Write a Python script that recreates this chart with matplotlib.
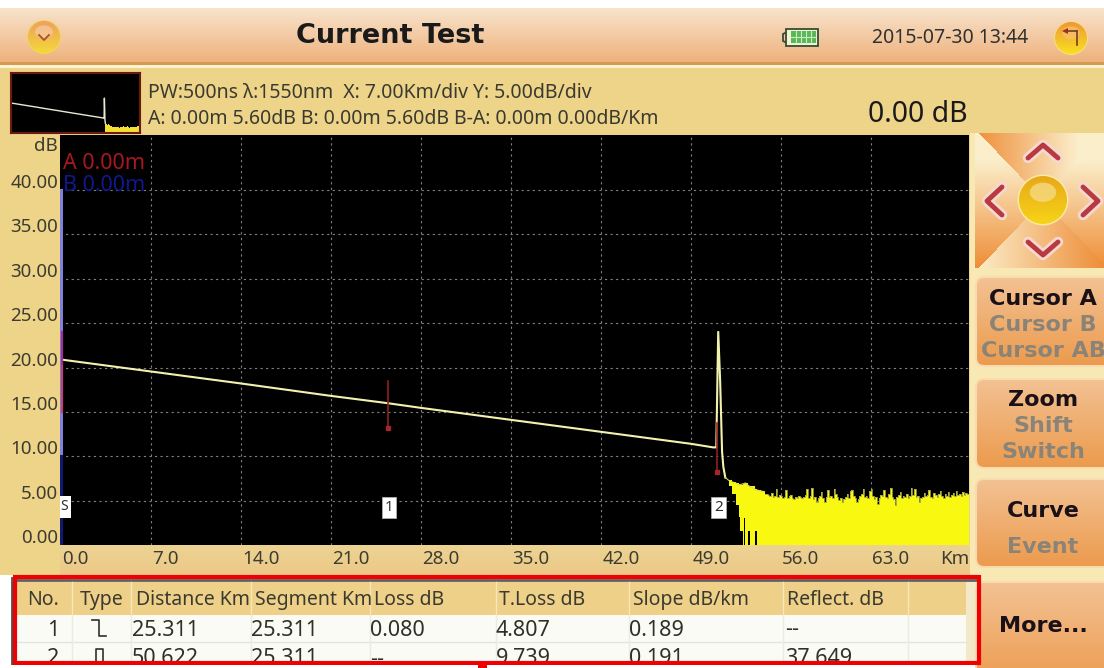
import numpy as np
import matplotlib
matplotlib.use('Agg')
import matplotlib.pyplot as plt
from matplotlib.colors import to_rgb
from matplotlib.patches import Rectangle, FancyBboxPatch, Circle, Polygon, Ellipse

plt.rcParams['font.family'] = ['Noto Sans', 'DejaVu Sans']

# trace
trace_km = [0.0, 7.0, 14.0, 21.0, 25.3, 28.0, 35.0, 42.0, 49.0, 50.7, 50.95, 51.1, 51.25, 51.4, 51.5, 51.65]
trace_db = [20.9, 19.55, 18.2, 16.8, 16.0, 15.45, 14.1, 12.75, 11.4, 11.0, 11.0, 24.1, 18.5, 10.5, 8.8, 7.6]

# yellow tail after the fibre end, top edge and lower edge
tail_km = [51.65, 51.9, 52.2, 52.45, 52.7, 52.8, 53.03, 53.1, 53.2, 53.45, 53.55, 53.95, 54.1, 54.4, 54.7]
tail_top = [7.6, 7.3, 7.1, 7.0, 6.8, 6.8, 6.9, 6.9, 7.0, 6.7, 6.6, 6.3, 6.2, 6.1, 6.0]
tail_low = [7.6, 6.6, 5.8, 4.5, 3.1, 1.6, 0.0, 3.0, 0.0, 1.6, 0.0, 1.6, 0.0, 0.0, 0.0]

noise_start = 54.7
noise_step = 0.125
noise_db = [5.8, 5.7, 5.6, 5.5, 5.9, 5.4, 5.5, 6.3, 5.4, 5.6, 5.5, 5.3, 5.4, 6.2, 5.3, 5.5,
            5.6, 5.3, 5.2, 5.4, 5.3, 5.5, 5.4, 5.3, 5.4, 5.6, 6.3, 5.3, 5.5, 6.4, 5.2, 5.4,
            4.9, 5.3, 5.5, 6.0, 5.3, 4.8, 5.4, 6.2, 5.4, 5.5, 5.3, 6.3, 5.7, 5.4, 5.1, 5.3,
            4.8, 5.2, 5.4, 5.8, 5.3, 6.1, 6.2, 5.5, 5.3, 4.9, 5.2, 5.5, 5.8, 6.3, 5.4, 5.5,
            5.3, 6.1, 6.3, 5.5, 5.2, 5.4, 4.6, 5.3, 5.6, 5.5, 6.2, 5.4, 5.3, 5.7, 6.4, 5.4,
            5.2, 4.5, 5.4, 5.6, 6.0, 5.3, 5.5, 5.4, 5.8, 5.3, 5.5, 6.4, 5.6, 6.3, 5.4, 5.5,
            4.9, 5.3, 5.4, 5.9, 5.5, 5.6, 6.2, 5.4, 5.3, 5.9, 5.6, 5.4, 5.7, 6.1, 5.5, 5.3,
            5.8, 5.5, 6.0, 5.4, 5.6, 5.9, 5.5, 6.1, 5.6, 5.8, 5.5, 6.0, 5.6, 5.9, 5.7, 5.6]
noise_km = [noise_start + i * noise_step for i in range(len(noise_db))]

# event marks: km, top dB, bottom dB
event_km = [25.4, 51.0]
event_top = [18.5, 13.8]
event_bot = [13.2, 8.2]
event_names = ['1', '2']

x_ticks = [0, 7, 14, 21, 28, 35, 42, 49, 56, 63]
y_ticks = [0, 5, 10, 15, 20, 25, 30, 35, 40]

table_head = ['No.', 'Type', 'Distance Km', 'Segment Km', 'Loss dB', 'T.Loss dB', 'Slope dB/km', 'Reflect. dB']
row_1 = ['25.311', '25.311', '0.080', '4.807', '0.189', '--']
row_2 = ['50.622', '25.311', '--', '9.739', '0.191', '37.649']

W, H = 1104, 668
fig = plt.figure(figsize=(W / 100, H / 100), dpi=100, facecolor='white')
bg = fig.add_axes([0, 0, 1, 1])
bg.axis('off')


def gradient(x0, y0, x1, y1, c0, c1, z=1):
    t = np.linspace(0, 1, 64)[:, None, None]
    img = (1 - t) * np.array(to_rgb(c0))[None, None, :] + t * np.array(to_rgb(c1))[None, None, :]
    return bg.imshow(img, extent=(x0, x1, y1, y0), aspect='auto', zorder=z)


def ball(x, y, r, rim, c_top, c_bot, shine, z=5):
    bg.add_patch(Circle((x, y), r * 1.06, fc=rim, ec='none', zorder=z))
    c = Circle((x, y), r, fc='none', ec='none', zorder=z)
    bg.add_patch(c)
    im = gradient(x - r, y - r, x + r, y + r, c_top, c_bot, z=z + 0.1)
    im.set_clip_path(c)
    bg.add_patch(Ellipse((x, y - r * 0.32), r * 1.1, r * 0.8, fc=shine, ec='none', alpha=0.75, zorder=z + 0.2))


def button(y0, y1, labels):
    box = FancyBboxPatch((976, y0 + 1), 140, y1 - y0 - 2, boxstyle='round,pad=0,rounding_size=8',
                         fc='none', ec='#f8dcb0', lw=1.5, zorder=4)
    bg.add_patch(box)
    im = gradient(975, y0, 1104, y1, '#f3c294', '#ec9a4c', z=3)
    im.set_clip_path(box)
    for text, c, yy in labels:
        bg.text(1043, yy, text, family='DejaVu Sans', weight='bold', fontsize=16, color=c,
                ha='center', va='center', zorder=6, clip_on=True)


# title bar and tan backgrounds
gradient(0, 8, W, 62, '#f8e3cc', '#eeb27c')
bg.add_patch(Rectangle((0, 62), W, 3, fc='#d59a50', ec='none', zorder=2))
bg.add_patch(Rectangle((0, 65), W, 3, fc='#fbf3d4', ec='none', zorder=2))
bg.add_patch(Rectangle((0, 68), W, 507, fc='#eed488', ec='none', zorder=1))
gradient(60, 546, 970, 575, '#edd392', '#ecc888', z=2)
bg.add_patch(Rectangle((970, 133), 134, 535, fc='#f8e8b4', ec='none', zorder=1))

bg.text(390, 36, 'Current Test', family='DejaVu Sans', weight='bold', fontsize=19.5, color='#1a1a1a',
        ha='center', va='center', zorder=6)
bg.text(950, 38, '2015-07-30 13:44', fontsize=14, color='#303030', ha='center', va='center', zorder=6)
ball(44, 37, 16, '#f0d858', '#eea060', '#f4d838', '#f7c8a0')
bg.plot([39, 44, 49], [35, 40, 35], color='#a85030', lw=1.3, zorder=7)
ball(1071, 38, 16, '#f8e088', '#f09838', '#f8e020', '#f8c070')
bg.plot([1077, 1077], [31, 45], color='#704020', lw=1.2, zorder=7)
bg.plot([1066, 1077], [31, 31], color='#704020', lw=1.2, zorder=7)
bg.add_patch(Polygon([[1062, 31], [1068, 28], [1068, 34]], fc='#a03020', ec='none', zorder=7))

# battery
bg.add_patch(Rectangle((786, 29), 32, 17, fc='#eef4d4', ec='#3a4a30', lw=1.3, zorder=5))
bg.add_patch(Rectangle((791, 31), 25, 12, fc='#58b858', ec='none', zorder=6))
for bx in [796, 801, 806, 811]:
    bg.plot([bx, bx], [31, 43], color='#c8ecc0', lw=0.8, zorder=7)
bg.plot([791, 816], [37, 37], color='#c8ecc0', lw=0.8, zorder=7)
bg.plot([785, 783, 783, 785], [33, 34, 41, 42], color='#3a4a30', lw=1.3, zorder=5)

# info text
bg.text(148, 93, 'PW:500ns \u03bb:1550nm  X: 7.00Km/div Y: 5.00dB/div', fontsize=14, color='#3a3a30',
        va='center', zorder=6)
bg.text(148, 119, 'A: 0.00m 5.60dB B: 0.00m 5.60dB B-A: 0.00m 0.00dB/Km', fontsize=14, color='#3a3a30',
        va='center', zorder=6)
bg.text(968, 115, '0.00 dB', fontsize=20.5, color='#1a1a1a', ha='right', va='center', zorder=6)

# main chart, placed on the screen pixels
left, right, top, bottom = 60, 969, 135, 545
ax = fig.add_axes([left / W, 1 - bottom / H, (right - left) / W, (bottom - top) / H], facecolor='black', zorder=3)
ax.set_xlim(-0.08, 70.6)
ax.set_ylim(0, 46.2)
for s in ax.spines.values():
    s.set_visible(False)
ax.set_xticks(x_ticks[1:])
ax.set_yticks(y_ticks[1:])
ax.grid(True, color='#808080', lw=0.8, ls=(0, (2, 3)))
ax.set_axisbelow(True)
ax.tick_params(length=0, labelbottom=False, labelleft=False)

# tick labels sit beside the grid lines on this instrument, left aligned under x and raised on y
for v in x_ticks:
    ax.annotate('%.1f' % v, (v, 0), xytext=(1, -14), textcoords='offset pixels', ha='left', va='center',
                fontsize=13.5, color='#3c3c30', annotation_clip=False)
for v in y_ticks:
    ax.annotate('%.2f' % v, (0, v), xytext=(-3, 7), textcoords='offset pixels', ha='right', va='center',
                fontsize=13.5, color='#3c3c30', annotation_clip=False)

ax.fill_between(tail_km, tail_low, tail_top, step='post', color='#f8f810', lw=0)
ax.fill_between(noise_km, 0, noise_db, step='post', color='#f8f810', lw=0)
ax.step(noise_km, noise_db, where='post', color='#a0a040', lw=0.6)
ax.plot(trace_km, trace_db, color='#f2f2b0', lw=1.5, solid_joinstyle='miter')
ax.plot(tail_km, tail_top, color='#d8d860', lw=0.8)

# cursors at zero and the event marks
ax.plot([0.03, 0.03], [0, 40], color='#8080d8', lw=2.2)
ax.plot([0.03, 0.03], [0, 10], color='#101870', lw=2.2)
ax.plot([0.1, 0.1], [15, 20.4], color='#c04070', lw=1.6)
ax.plot([0.1, 0.1], [20.4, 24], color='#a03090', lw=1.6)
for km, t, b, name in zip(event_km, event_top, event_bot, event_names):
    ax.plot([km, km], [b, t], color='#902020', lw=1.2)
    ax.plot([km], [b], marker='s', ms=3.5, color='#a02828')
    ax.annotate(name, (km + 0.1, 4.25), ha='center', va='center', fontsize=11, color='#303030',
                bbox=dict(boxstyle='square,pad=0.2', fc='white', ec='#b0b0b0', lw=0.6))
ax.text(0.2, 4.3, 'S', ha='center', va='center', fontsize=10, color='#303030', clip_on=True,
        bbox=dict(boxstyle='square,pad=0.25', fc='white', ec='none'))
ax.text(0.15, 43.0, 'A 0.00m', fontsize=15.5, weight='bold', color='#a81820', va='center')
ax.text(0.15, 40.5, 'B 0.00m', fontsize=15.5, weight='bold', color='#101890', va='center', clip_on=True)
ax.annotate('dB', (0, 45), xytext=(-3, 0), textcoords='offset pixels', fontsize=13.5, color='#3c3c30',
            ha='right', va='center', annotation_clip=False)
ax.annotate('Km', (70.6, 0), xytext=(0, -14), textcoords='offset pixels', fontsize=13.5, color='#3c3c30',
            ha='right', va='center', annotation_clip=False)

# small overview of the same trace
th = fig.add_axes([11 / W, 1 - 133 / H, 129 / W, 60 / H], facecolor='black', zorder=3)
th.set_xlim(0, 70.6)
th.set_ylim(1.3, 40.5)
th.set_xticks([])
th.set_yticks([])
for s in th.spines.values():
    s.set_color('#6a1a10')
    s.set_linewidth(1.5)
th.fill_between(noise_km, 0, noise_db, step='post', color='#f4e030', lw=0)
th.fill_between(tail_km, 0, tail_top, step='post', color='#f4e030', lw=0)
th.plot(trace_km, trace_db, color='#e8e8d8', lw=1)

# navigation pad, four triangles around the ball
pad_x0, pad_x1, pad_y0, pad_y1 = 975, 1104, 133, 268
cx, cy = 1043, 200
yy, xx = np.mgrid[0:1:135j, 0:1:129j]
orange, pale = np.array(to_rgb('#ee8e38')), np.array(to_rgb('#fbeecb'))
u, v = xx - 0.53, yy - 0.5
ramp = np.where(np.abs(v) > np.abs(u),
                np.where(v < 0, xx, 0.8 * (1 - xx)),
                1 - yy)
ramp = np.clip(ramp * 1.25, 0, 1)[:, :, None]
bg.imshow(orange * (1 - ramp) + pale * ramp, extent=(pad_x0, pad_x1, pad_y1, pad_y0), aspect='auto', zorder=2)
ball(cx, cy, 24, '#fbeaa8', '#e8a818', '#f6d418', '#f6dc88')
for pts in ([(1028, 158), (1043, 145), (1058, 158)], [(1028, 242), (1043, 255), (1058, 242)],
            [(1002, 187), (987, 201), (1002, 215)], [(1083, 187), (1098, 201), (1083, 215)]):
    px, py = zip(*pts)
    bg.plot(px, py, color='#f5d8d0', lw=7.5, zorder=5, solid_capstyle='round')
    bg.plot(px, py, color='#b83a40', lw=3.5, zorder=6, solid_capstyle='round')

grey = '#8a8478'
button(276, 367, [('Cursor A', '#1a1018', 299), ('Cursor B', grey, 325), ('Cursor AB', grey, 351)])
button(378, 469, [('Zoom', '#1a1018', 400), ('Shift', grey, 426), ('Switch', grey, 452)])
button(478, 568, [('Curve', '#1a1018', 511), ('Event', grey, 547)])
button(581, 690, [('More...', '#1a1018', 626)])

# event table
bg.add_patch(Rectangle((11, 578), 965, 90, fc='#fbfbf6', ec='none', zorder=2))
bg.add_patch(Rectangle((14, 582), 952, 33, fc='#eed088', ec='none', zorder=3))
bg.add_patch(Rectangle((966, 582), 10, 90, fc='#f3e9c8', ec='none', zorder=3))
bg.plot([12, 12], [578, 668], color='#505050', lw=2, zorder=4)
bg.plot([12, 976], [580, 580], color='#606060', lw=2, zorder=4)
bg.plot([14, 966], [642, 642], color='#e4e4d8', lw=1, zorder=4)
col_edges = [72, 131, 251, 370, 496, 629, 783, 908]
for c in col_edges:
    bg.plot([c, c], [582, 615], color='#f8e8b8', lw=1, zorder=4)
    bg.plot([c, c], [615, 668], color='#ebebe0', lw=1, zorder=4)
head_x = [27, 80, 136, 255, 374, 499, 633, 787]
head_end = [72, 131, 251, 370, 496, 629, 783, 908]
for xp, xe, name in zip(head_x, head_end, table_head):
    t = bg.text(xp, 600, name, fontsize=14, color='#3a3a30', va='center', zorder=5)
    # header cells cut long names at the column edge
    t.set_clip_path(Rectangle((xp - 2, 582), xe - xp + 2, 33, transform=bg.transData))
data_x = [132, 251, 370, 496, 629, 785]
for yp, row in ((630, row_1), (659, row_2)):
    for xp, val in zip(data_x, row):
        bg.text(xp, yp, val, fontsize=15.5, color='#303028', va='center', zorder=5)
bg.text(53, 630, '1', fontsize=15.5, color='#303028', ha='center', va='center', zorder=5)
bg.text(53, 659, '2', fontsize=15.5, color='#303028', ha='center', va='center', zorder=5)
bg.plot([92, 99, 99, 106], [620, 620, 636, 636], color='#303030', lw=1.2, zorder=5)
bg.plot([96, 96, 103, 103], [663, 649, 649, 663], color='#303030', lw=1.2, zorder=5)

# red box, white strip below cuts the second row
bg.add_patch(Rectangle((15, 576.5), 964, 86.5, fc='none', ec='#f00000', lw=3, zorder=8))
bg.add_patch(Rectangle((0, 665), 975, 3, fc='white', ec='none', zorder=9))
bg.add_patch(Rectangle((478, 663), 9, 5, fc='#f00000', ec='none', zorder=10))
bg.add_patch(Rectangle((0, 0), W, 8, fc='white', ec='none', zorder=9))

bg.set_xlim(0, W)
bg.set_ylim(H, 0)
fig.savefig('out.png', dpi=100)
